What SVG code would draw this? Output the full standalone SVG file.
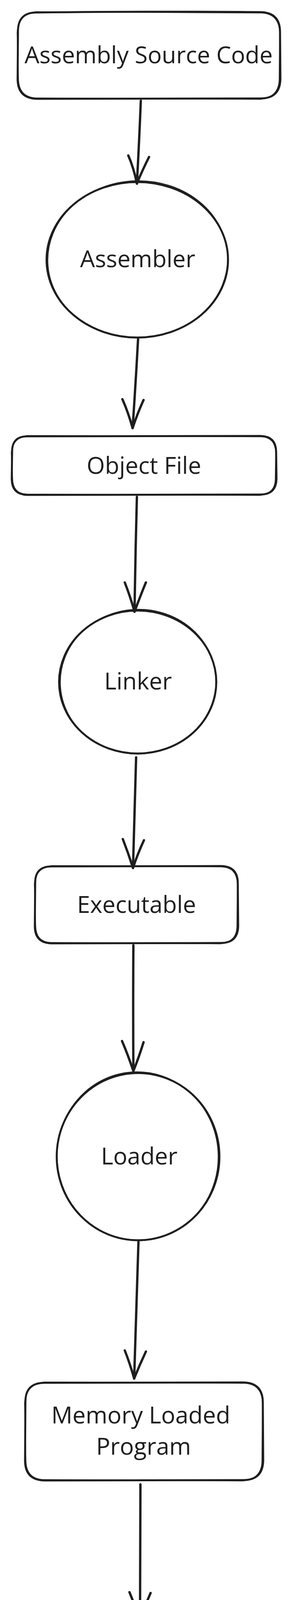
<svg xmlns="http://www.w3.org/2000/svg" width="744" height="4647" viewBox="0 0 744 4647">
<style>
.s{fill:none;stroke:#1e1e1e;stroke-width:5;stroke-linecap:round;stroke-linejoin:round}
.s2{fill:none;stroke:#1e1e1e;stroke-width:2.5;stroke-linecap:round;stroke-linejoin:round}
.a{fill:none;stroke:#1e1e1e;stroke-width:6;stroke-linecap:round;stroke-linejoin:round}
.t{font-family:"Open Sans","Noto Sans","DejaVu Sans",sans-serif;font-size:60px;fill:#1e1e1e;text-anchor:middle}
</style>
<rect width="744" height="4647" fill="#ffffff"/>
<g id="connectors">
<g id="e1"><path class="a" d="M360,258 Q356,360 350,470"/><path class="a" d="M328,398 Q342,430 350,470 M381,402 Q362,440 350,470"/></g>
<g id="e2"><path class="a" d="M353,868 Q347,980 339,1096"/><path class="a" d="M313,1022 Q328,1056 339,1096 M367,1024 Q350,1062 339,1096"/></g>
<g id="e3"><path class="a" d="M350,1272 Q346,1420 344,1566"/><path class="a" d="M319,1491 Q333,1527 344,1566 M373,1491 Q357,1530 344,1566"/></g>
<g id="e4"><path class="a" d="M348,1939 Q344,2080 340,2222"/><path class="a" d="M314,2148 Q328,2184 340,2222 M368,2151 Q351,2188 340,2222"/></g>
<g id="e5"><path class="a" d="M341,2420 Q340,2580 341,2742"/><path class="a" d="M312,2665 Q327,2700 341,2742 M367,2668 Q356,2704 341,2742"/></g>
<g id="e6"><path class="a" d="M354,3179 Q348,3350 343,3529"/><path class="a" d="M319,3457 Q332,3490 343,3529 M373,3460 Q357,3494 343,3529"/></g>
<g id="e7"><path class="a" d="M359,3800 Q358,3980 358,4154"/><path class="a" d="M331,4076 Q346,4112 358,4154 M385,4078 Q369,4114 358,4154"/></g>
</g>
<g id="n1">
<path class="s" d="M95,32 C250,30 500,29 666,31 Q716,32 716,82 L717,202 Q716,252 666,252 L95,253 Q45,252 45,202 L46,82 Q45,31 95,32 Z"/>
<path class="s2" d="M96,30 L667,33 Q714,34 715,84 L714,203 Q713,250 665,254 L94,251 Q47,250 47,200 L44,84 Q47,33 96,30"/>
<text class="t" x="380" y="162">Assembly Source Code</text>
</g>
<g id="n2">
<ellipse class="s" cx="351" cy="665" rx="232" ry="199"/>
<ellipse class="s2" cx="352" cy="664" rx="230" ry="201" transform="rotate(-2 352 664)"/>
<text class="t" x="352" y="684">Assembler</text>
</g>
<g id="n3">
<path class="s" d="M70,1117 L666,1116 Q706,1117 706,1157 L707,1226 Q706,1266 666,1266 L70,1267 Q30,1266 30,1226 L31,1157 Q30,1117 70,1117 Z"/>
<path class="s2" d="M72,1115 L668,1118 Q704,1119 705,1159 L704,1228 Q703,1264 664,1268 L68,1265 Q32,1264 32,1224 L29,1159 Q32,1119 72,1115"/>
<text class="t" x="368" y="1213">Object File</text>
</g>
<g id="n4">
<ellipse class="s" cx="352" cy="1746" rx="201" ry="183"/>
<ellipse class="s2" cx="353" cy="1745" rx="199" ry="185" transform="rotate(-3 353 1745)"/>
<text class="t" x="353" y="1765">Linker</text>
</g>
<g id="n5">
<path class="s" d="M132,2218 L565,2217 Q608,2218 608,2261 L609,2371 Q608,2414 565,2414 L132,2415 Q89,2414 89,2371 L90,2261 Q89,2218 132,2218 Z"/>
<path class="s2" d="M134,2216 L567,2219 Q606,2220 607,2263 L606,2373 Q605,2412 563,2416 L130,2413 Q91,2412 91,2369 L88,2263 Q91,2220 134,2216"/>
<text class="t" x="349" y="2337">Executable</text>
</g>
<g id="n6">
<ellipse class="s" cx="353" cy="2961" rx="208" ry="214"/>
<ellipse class="s2" cx="352" cy="2960" rx="206" ry="216" transform="rotate(-4 352 2960)"/>
<text class="t" x="356" y="2981">Loader</text>
</g>
<g id="n7">
<path class="s" d="M114,3540 L622,3539 Q672,3540 672,3590 L673,3739 Q672,3789 622,3789 L114,3790 Q64,3789 64,3739 L65,3590 Q64,3540 114,3540 Z"/>
<path class="s2" d="M116,3538 L624,3541 Q670,3542 671,3592 L670,3741 Q669,3787 620,3791 L112,3788 Q66,3787 66,3737 L63,3592 Q66,3542 116,3538"/>
<text class="t" x="360" y="3644">Memory Loaded</text>
<text class="t" x="367" y="3724">Program</text>
</g>
<g id="n8">
<ellipse class="s" cx="361" cy="4392" rx="249" ry="233"/>
<ellipse class="s2" cx="360" cy="4391" rx="247" ry="235" transform="rotate(-3 360 4391)"/>
<text class="t" x="352" y="4368">CPU</text>
<text class="t" x="361" y="4452">(Execution)</text>
</g>
</svg>
